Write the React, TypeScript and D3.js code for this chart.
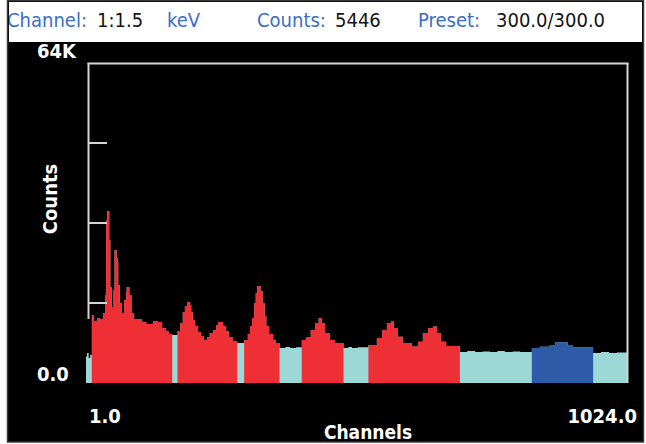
import React from "react";
import * as d3 from "d3";

// Spectrum outline: channel where a step starts, and counts held until the next step
const channels = [
  1, 3, 6, 9, 12, 16, 22, 27, 33, 37, 39, 41, 45, 47, 50, 53, 55, 59, 61, 62,
  65, 69, 73, 77, 78, 83, 87, 92, 107, 115, 128, 137, 145, 152, 158, 164,
  174, 179, 184, 188, 192, 198, 200, 203, 207, 213, 218, 224, 230, 235, 241,
  247, 251, 260, 266, 271, 279, 287, 300, 307, 311, 315, 319, 322, 325, 331,
  335, 339, 342, 347, 355, 360, 367, 378, 387, 398, 409, 417, 426, 434, 441,
  447, 453, 462, 472, 488, 497, 504, 515, 535, 551, 561, 570, 578, 583, 591,
  600, 617, 629, 638, 648, 657, 665, 672, 682, 708, 722, 737, 751, 765, 779,
  793, 808, 822, 844, 859, 878, 888, 912, 922, 960, 975, 990, 1005, 1024,
];
const counts = [
  5446, 6140, 5120, 5730, 13930, 12700, 13310, 13110, 14340, 18020, 33380,
  35230, 29290, 19660, 15570, 19050, 27240, 25600, 24780, 20070, 16380, 14340,
  17000, 18640, 19660, 18020, 14340, 13110, 12490, 12080, 12700, 12490, 11260,
  10650, 10040, 9830, 10650, 12290, 14540, 15770, 16590, 15970, 14540, 12900,
  11670, 10450, 9630, 8810, 9420, 10240, 10850, 11880, 12490, 11670, 10650,
  9420, 8600, 8190, 8810, 10040, 11670, 13310, 16380, 18430, 19870, 18840,
  16380, 13720, 11670, 10040, 8810, 8190, 7170, 7370, 7170, 7300, 8810, 9420,
  10850, 12290, 13310, 12290, 10240, 8810, 8190, 7170, 7370, 7170, 7300, 7780,
  9220, 10850, 12290, 12600, 11260, 9480, 8190, 7480, 8460, 10240, 11260,
  11570, 10240, 8460, 7580, 6350, 6550, 6350, 6450, 6350, 6550, 6350, 6450,
  6350, 7170, 7430, 7780, 8340, 7780, 7310, 6140, 6350, 6140, 6250, 6140,
];

// Regions of interest marked on the spectrum
const roiStart = [12, 174, 300, 409, 535, 844];
const roiEnd = [164, 287, 367, 488, 708, 960];
const roiColor = ["#ee3036", "#ee3036", "#ee3036", "#ee3036", "#ee3036", "#2d5ba8"];

const yTicks = [16384, 32768, 49152];
const yLabels = ["0.0", "64K"];
const xLabels = ["1.0", "1024.0"];

const headerParts = [
  { text: "Channel:", x: 7, blue: true },
  { text: "1:1.5", x: 97, blue: false },
  { text: "keV", x: 167, blue: true },
  { text: "Counts:", x: 257, blue: true },
  { text: "5446", x: 335, blue: false },
  { text: "Preset:", x: 418, blue: true },
  { text: "300.0/300.0", x: 496, blue: false },
];

const boldFont = "'DejaVu Sans Condensed', 'DejaVu Sans', sans-serif";

export default function App() {
  const W = 646;
  const H = 444;
  const x = d3.scaleLinear().domain([1, 1024]).range([86, 627]);
  const y = d3.scaleLinear().domain([0, 65536]).range([383, 63]);

  const pts: [number, number][] = channels.map((c, i) => [c, counts[i]]);
  const area = d3
    .area<[number, number]>()
    .curve(d3.curveStepAfter)
    .x((d) => x(d[0]))
    .y0(y(0))
    .y1((d) => y(d[1]));
  const spectrum = area(pts) || "";

  const axisColor = "#d6d6d6";
  const top = y(65536);
  const bottom = y(0);
  const left = 88.5;
  const right = 627.5;

  return (
    <div style={{ position: "absolute", left: 0, top: 0 }}>
      <svg width={W} height={H} style={{ display: "block" }}>
        <defs>
          {roiStart.map((s, i) => (
            <clipPath id={`roi-${i}`} key={i}>
              <rect x={x(s)} y={0} width={x(roiEnd[i]) - x(s)} height={H} />
            </clipPath>
          ))}
          <clipPath id="header-clip">
            <rect x={9} y={2} width={633} height={40} />
          </clipPath>
        </defs>

        <rect x={0} y={0} width={W} height={H} fill="#ffffff" />
        <rect x={7} y={0} width={637} height={442} fill="#000000" />
        <rect x={7.5} y={0.5} width={636} height={441.5} fill="none" stroke="#3a3a3a" strokeWidth={1.5} />
        <rect x={9} y={2} width={633} height={40} fill="#ffffff" />

        {/* Status line */}
        <g clipPath="url(#header-clip)" fontFamily="'DejaVu Sans Condensed', 'DejaVu Sans', sans-serif" fontSize={20}>
          {headerParts.map((p, i) => (
            <text key={i} x={p.x} y={27} fill={p.blue ? "#3c6dc6" : "#151515"}>
              {p.text}
            </text>
          ))}
        </g>

        {/* Spectrum */}
        <path d={spectrum} fill="#9bd8d6" />
        {roiStart.map((s, i) => (
          <path key={i} d={spectrum} fill={roiColor[i]} clipPath={`url(#roi-${i})`} />
        ))}

        {/* Frame and ticks */}
        <line x1={left} x2={left} y1={top} y2={319} stroke={axisColor} strokeWidth={2} />
        <line x1={left - 1} x2={right + 1} y1={top + 0.5} y2={top + 0.5} stroke={axisColor} strokeWidth={2} />
        <line x1={right} x2={right} y1={top} y2={bottom} stroke={axisColor} strokeWidth={2} />
        {yTicks.map((t) => (
          <line key={t} x1={left} x2={107} y1={y(t)} y2={y(t)} stroke={axisColor} strokeWidth={2} />
        ))}

        {/* Labels */}
        <g fontFamily={boldFont} fontWeight="bold" fontSize={20} fill="#ffffff">
          <text x={37} y={381}>{yLabels[0]}</text>
          <text x={37} y={58}>{yLabels[1]}</text>
          <text x={89} y={423}>{xLabels[0]}</text>
          <text x={637} y={423} textAnchor="end">{xLabels[1]}</text>
          <text x={368} y={439} fontSize={19} textAnchor="middle">Channels</text>
          <text transform="translate(57,199) rotate(-90)" textAnchor="middle">Counts</text>
        </g>
      </svg>
    </div>
  );
}
